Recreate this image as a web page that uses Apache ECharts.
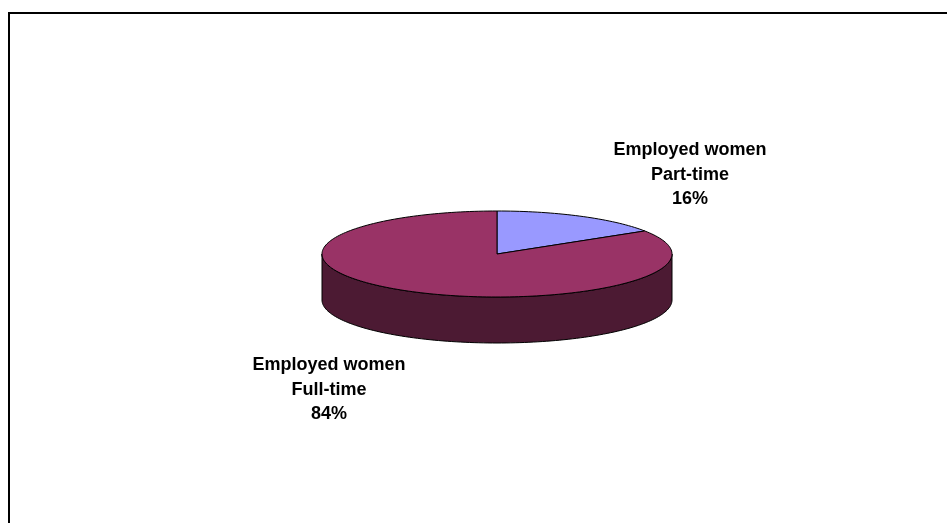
<!DOCTYPE html>
<html>
<head>
<meta charset="utf-8">
<script src="https://cdn.jsdelivr.net/npm/echarts@6/dist/echarts.min.js"></script>
<style>
  html, body { margin: 0; padding: 0; background: #ffffff; }
  #chart { width: 947px; height: 523px; }
</style>
</head>
<body>
<div id="chart"></div>
<script>
// Employment of women: part-time vs full-time share
const categories = ['Employed women\nPart-time', 'Employed women\nFull-time'];
const shares = [16, 84];

// Slice colours (top face) and darker side walls
const topColors = ['#9999FF', '#993366'];
const sideColors = ['#3D3D66', '#4C1A33'];

// Pie geometry (pixels): ellipse centre, radii and wall depth
const PIE = { cx: 497, cy: 254, rx: 175, ry: 43, depth: 46 };
// Label anchors (centre of text block)
const LABEL_POS = [[690, 175], [329, 390]];

const total = shares.reduce((a, b) => a + b, 0);
const DEG = Math.PI / 180;

function pt(a, dy) {
  return [PIE.cx + PIE.rx * Math.cos(a * DEG), PIE.cy - PIE.ry * Math.sin(a * DEG) + (dy || 0)];
}
function arc(from, to, dy) {
  const pts = [];
  const n = Math.max(2, Math.ceil(Math.abs(to - from) / 1.5));
  for (let i = 0; i <= n; i++) pts.push(pt(from + (to - from) * i / n, dy));
  return pts;
}

const chart = echarts.init(document.getElementById('chart'), null, { renderer: 'canvas' });

chart.setOption({
  backgroundColor: '#ffffff',
  animation: false,
  graphic: [{
    type: 'rect',
    shape: { x: 9, y: 13, width: 960, height: 540 },
    style: { fill: 'none', stroke: '#000000', lineWidth: 2 },
    silent: true
  }],
  series: [{
    type: 'custom',
    coordinateSystem: 'none',
    data: shares.map((v, i) => ({ value: v, name: categories[i] })),
    renderItem: function (params, api) {
      const i = params.dataIndex;
      const v = api.value(0);
      let cum = 0;
      for (let k = 0; k < i; k++) cum += shares[k];
      // clockwise from 12 o'clock
      const a0 = 90 - cum / total * 360;
      const a1 = 90 - (cum + v) / total * 360;
      const children = [];

      // visible side wall: front half of the ellipse (angles where sin < 0)
      for (let k = -2; k <= 1; k++) {
        const lo = Math.max(a1, -180 + k * 360);
        const hi = Math.min(a0, 0 + k * 360);
        if (hi > lo) {
          const topArc = arc(lo, hi, 0);
          const botArc = arc(hi, lo, PIE.depth);
          children.push({
            type: 'polygon', z2: 1,
            shape: { points: topArc.concat(botArc) },
            style: { fill: sideColors[i], stroke: '#000000', lineWidth: 1 }
          });
        }
      }

      // top face sector
      const top = [[PIE.cx, PIE.cy]].concat(arc(a0, a1, 0));
      children.push({
        type: 'polygon', z2: 2,
        shape: { points: top },
        style: { fill: topColors[i], stroke: '#000000', lineWidth: 1, lineJoin: 'round' }
      });

      // label
      const pct = Math.round(v / total * 100) + '%';
      children.push({
        type: 'text', z2: 3,
        x: LABEL_POS[i][0], y: LABEL_POS[i][1],
        style: {
          text: categories[i] + '\n' + pct,
          fontFamily: 'Arial, "Liberation Sans", sans-serif',
          fontWeight: 'bold',
          fontSize: 18,
          lineHeight: 24.5,
          fill: '#000000',
          align: 'center',
          verticalAlign: 'middle'
        }
      });
      return { type: 'group', children: children };
    }
  }]
});
</script>
</body>
</html>
